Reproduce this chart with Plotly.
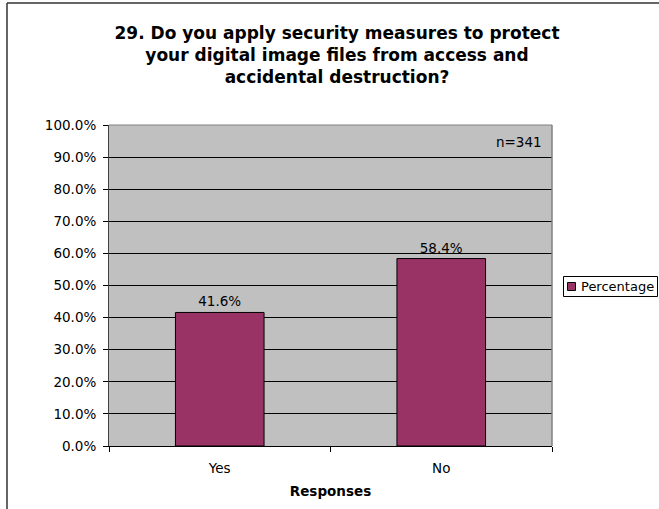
import plotly.graph_objects as go

categories = ["Yes", "No"]
percentages = [41.6, 58.4]
y_ticks = [0, 10, 20, 30, 40, 50, 60, 70, 80, 90, 100]
y_tick_labels = [f"{v:.1f}%" for v in y_ticks]
series_name = "Percentage"
title_lines = [
    "29. Do you apply security measures to protect",
    "your digital image files from access and",
    "accidental destruction?",
]
x_title = "Responses"
note = "n=341"

FONT = "DejaVu Sans, Verdana, sans-serif"
W, H = 659, 509
L, R, T, B = 109, 107, 125, 63
pw, ph = W - L - R, H - T - B

def px_x(x):
    return (x - L) / pw

def px_y(y):
    return (H - B - y) / ph

fig = go.Figure()
fig.add_trace(go.Bar(
    x=categories,
    y=percentages,
    name=series_name,
    marker=dict(color="#993366", line=dict(color="#000000", width=1)),
    width=0.4,
    text=[f"{v:.1f}%" for v in percentages],
    textposition="outside",
    textfont=dict(family=FONT, size=13.5, color="#000000"),
    cliponaxis=False,
    showlegend=False,
))

shapes = []
# outer chart border (left and top visible)
shapes.append(dict(type="line", xref="paper", yref="paper",
                   x0=px_x(7), x1=px_x(7), y0=px_y(3), y1=px_y(520),
                   line=dict(color="#333333", width=1.5)))
shapes.append(dict(type="line", xref="paper", yref="paper",
                   x0=px_x(7), x1=px_x(680), y0=px_y(3), y1=px_y(3),
                   line=dict(color="#333333", width=1.5)))
# plot area border top/right (gray)
shapes.append(dict(type="line", xref="paper", yref="paper",
                   x0=0, x1=1, y0=1, y1=1, line=dict(color="#808080", width=1)))
shapes.append(dict(type="line", xref="paper", yref="paper",
                   x0=1, x1=1, y0=0, y1=1, line=dict(color="#808080", width=1.5)))
# manual legend box
shapes.append(dict(type="rect", xref="paper", yref="paper",
                   x0=px_x(563.5), x1=px_x(657.5), y0=px_y(296.5), y1=px_y(276.5),
                   line=dict(color="#000000", width=1), fillcolor="#ffffff"))
shapes.append(dict(type="rect", xref="paper", yref="paper",
                   x0=px_x(567.5), x1=px_x(575.5), y0=px_y(290.5), y1=px_y(282.5),
                   line=dict(color="#000000", width=1), fillcolor="#993366"))

annotations = [
    dict(text=note, xref="paper", yref="paper", x=px_x(544), y=px_y(142),
         xanchor="right", yanchor="middle", showarrow=False,
         font=dict(family=FONT, size=13.5, color="#000000")),
    dict(text=series_name, xref="paper", yref="paper", x=px_x(579), y=px_y(286.5),
         xanchor="left", yanchor="middle", showarrow=False,
         font=dict(family=FONT, size=13, color="#000000")),
]

fig.update_layout(
    width=W, height=H,
    margin=dict(l=L, r=R, t=T, b=B, pad=0),
    paper_bgcolor="#ffffff",
    plot_bgcolor="#c0c0c0",
    font=dict(family=FONT, size=13, color="#000000"),
    title=dict(text="<b>" + "<br>".join(title_lines) + "</b>",
               x=(337 / W), xanchor="center", xref="container",
               y=1 - 39 / H, yanchor="top", yref="container",
               font=dict(family=FONT, size=17, color="#000000")),
    bargap=0.6,
    showlegend=False,
    shapes=shapes,
    annotations=annotations,
)
fig.update_xaxes(
    type="category",
    showline=True, linecolor="#000000", linewidth=1,
    ticks="outside", tickson="boundaries", ticklen=5, tickcolor="#000000",
    ticklabelstandoff=10,
    showgrid=False, zeroline=False,
    tickfont=dict(family=FONT, size=13.5, color="#000000"),
    title=dict(text="<b>" + x_title + "</b>", standoff=11,
               font=dict(family=FONT, size=13.5, color="#000000")),
)
fig.update_yaxes(
    range=[0, 100],
    tickvals=y_ticks, ticktext=y_tick_labels,
    showline=True, linecolor="#404040", linewidth=1,
    ticks="outside", ticklen=5, tickcolor="#000000",
    ticklabelstandoff=4,
    showgrid=True, gridcolor="#000000", gridwidth=1,
    zeroline=False,
    tickfont=dict(family=FONT, size=13.5, color="#000000"),
)
fig.write_html("out.html")
